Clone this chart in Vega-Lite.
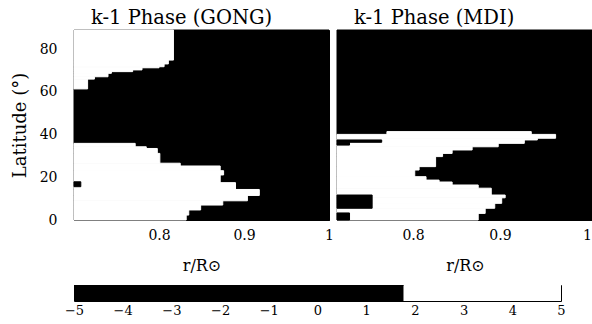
{
  "$schema": "https://vega.github.io/schema/vega-lite/v6.json",
  "background": "white",
  "padding": {"left": 10, "top": 7, "right": 0, "bottom": 0},
  "datasets": {
    "gong": [
      {"kind": "bg", "lat0": 0, "lat1": 89, "r0": 0.7, "r1": 1.0, "phase": -3},
      {"kind": "white", "lat0": 74.9, "lat1": 89, "r0": 0.7, "r1": 0.817, "phase": 3},
      {"kind": "white", "lat0": 73.1, "lat1": 74.9, "r0": 0.7, "r1": 0.811, "phase": 3},
      {"kind": "white", "lat0": 71.8, "lat1": 73.1, "r0": 0.7, "r1": 0.806, "phase": 3},
      {"kind": "white", "lat0": 71.3, "lat1": 71.8, "r0": 0.7, "r1": 0.8, "phase": 3},
      {"kind": "white", "lat0": 70.3, "lat1": 71.3, "r0": 0.7, "r1": 0.78, "phase": 3},
      {"kind": "white", "lat0": 69.5, "lat1": 70.3, "r0": 0.7, "r1": 0.769, "phase": 3},
      {"kind": "white", "lat0": 68.7, "lat1": 69.5, "r0": 0.7, "r1": 0.744, "phase": 3},
      {"kind": "white", "lat0": 67.1, "lat1": 68.7, "r0": 0.7, "r1": 0.74, "phase": 3},
      {"kind": "white", "lat0": 66.0, "lat1": 67.1, "r0": 0.7, "r1": 0.724, "phase": 3},
      {"kind": "white", "lat0": 61.4, "lat1": 66.0, "r0": 0.7, "r1": 0.716, "phase": 3},
      {"kind": "white", "lat0": 34.3, "lat1": 35.9, "r0": 0.7, "r1": 0.772, "phase": 3},
      {"kind": "white", "lat0": 33.5, "lat1": 34.3, "r0": 0.7, "r1": 0.785, "phase": 3},
      {"kind": "white", "lat0": 31.2, "lat1": 33.5, "r0": 0.7, "r1": 0.798, "phase": 3},
      {"kind": "white", "lat0": 26.6, "lat1": 31.2, "r0": 0.7, "r1": 0.801, "phase": 3},
      {"kind": "white", "lat0": 25.3, "lat1": 26.6, "r0": 0.7, "r1": 0.825, "phase": 3},
      {"kind": "white", "lat0": 23.1, "lat1": 25.3, "r0": 0.7, "r1": 0.872, "phase": 3},
      {"kind": "white", "lat0": 21.1, "lat1": 23.1, "r0": 0.7, "r1": 0.876, "phase": 3},
      {"kind": "white", "lat0": 17.5, "lat1": 21.1, "r0": 0.7, "r1": 0.872, "phase": 3},
      {"kind": "white", "lat0": 14.3, "lat1": 17.5, "r0": 0.7, "r1": 0.89, "phase": 3},
      {"kind": "white", "lat0": 11.5, "lat1": 14.3, "r0": 0.7, "r1": 0.918, "phase": 3},
      {"kind": "white", "lat0": 9.0, "lat1": 11.5, "r0": 0.7, "r1": 0.904, "phase": 3},
      {"kind": "white", "lat0": 7.0, "lat1": 9.0, "r0": 0.7, "r1": 0.875, "phase": 3},
      {"kind": "white", "lat0": 4.7, "lat1": 7.0, "r0": 0.7, "r1": 0.849, "phase": 3},
      {"kind": "white", "lat0": 2.3, "lat1": 4.7, "r0": 0.7, "r1": 0.835, "phase": 3},
      {"kind": "white", "lat0": 0, "lat1": 2.3, "r0": 0.7, "r1": 0.832, "phase": 3},
      {"kind": "black", "lat0": 15.6, "lat1": 17.9, "r0": 0.7, "r1": 0.708, "phase": -3}
    ],
    "mdi": [
      {"kind": "bg", "lat0": 0, "lat1": 89, "r0": 0.7126, "r1": 1.007, "phase": -3},
      {"kind": "white", "lat0": 40.1, "lat1": 41.4, "r0": 0.77, "r1": 0.936, "phase": 3},
      {"kind": "white", "lat0": 38.3, "lat1": 40.1, "r0": 0.7126, "r1": 0.964, "phase": 3},
      {"kind": "white", "lat0": 37.5, "lat1": 38.3, "r0": 0.7126, "r1": 0.943, "phase": 3},
      {"kind": "white", "lat0": 35.9, "lat1": 37.5, "r0": 0.7126, "r1": 0.928, "phase": 3},
      {"kind": "white", "lat0": 34.3, "lat1": 35.9, "r0": 0.7126, "r1": 0.898, "phase": 3},
      {"kind": "white", "lat0": 32.8, "lat1": 34.3, "r0": 0.7126, "r1": 0.868, "phase": 3},
      {"kind": "white", "lat0": 31.2, "lat1": 32.8, "r0": 0.7126, "r1": 0.845, "phase": 3},
      {"kind": "white", "lat0": 29.7, "lat1": 31.2, "r0": 0.7126, "r1": 0.834, "phase": 3},
      {"kind": "white", "lat0": 25.0, "lat1": 29.7, "r0": 0.7126, "r1": 0.826, "phase": 3},
      {"kind": "white", "lat0": 23.4, "lat1": 25.0, "r0": 0.7126, "r1": 0.807, "phase": 3},
      {"kind": "white", "lat0": 20.3, "lat1": 23.4, "r0": 0.7126, "r1": 0.802, "phase": 3},
      {"kind": "white", "lat0": 18.7, "lat1": 20.3, "r0": 0.7126, "r1": 0.815, "phase": 3},
      {"kind": "white", "lat0": 17.8, "lat1": 18.7, "r0": 0.7126, "r1": 0.83, "phase": 3},
      {"kind": "white", "lat0": 16.4, "lat1": 17.8, "r0": 0.7126, "r1": 0.845, "phase": 3},
      {"kind": "white", "lat0": 14.9, "lat1": 16.4, "r0": 0.7126, "r1": 0.875, "phase": 3},
      {"kind": "white", "lat0": 11.7, "lat1": 14.9, "r0": 0.7126, "r1": 0.89, "phase": 3},
      {"kind": "white", "lat0": 10.4, "lat1": 11.7, "r0": 0.7126, "r1": 0.906, "phase": 3},
      {"kind": "white", "lat0": 7.8, "lat1": 10.4, "r0": 0.7126, "r1": 0.902, "phase": 3},
      {"kind": "white", "lat0": 5.5, "lat1": 7.8, "r0": 0.7126, "r1": 0.894, "phase": 3},
      {"kind": "white", "lat0": 3.1, "lat1": 5.5, "r0": 0.7126, "r1": 0.883, "phase": 3},
      {"kind": "white", "lat0": 0, "lat1": 3.1, "r0": 0.7126, "r1": 0.875, "phase": 3},
      {"kind": "black", "lat0": 36.4, "lat1": 37.5, "r0": 0.7126, "r1": 0.764, "phase": -3},
      {"kind": "black", "lat0": 35.1, "lat1": 36.4, "r0": 0.7126, "r1": 0.727, "phase": -3},
      {"kind": "black", "lat0": 5.5, "lat1": 11.7, "r0": 0.7126, "r1": 0.753, "phase": -3},
      {"kind": "black", "lat0": 0, "lat1": 3.3, "r0": 0.7126, "r1": 0.727, "phase": -3}
    ],
    "cbar": [
      {"lo": -5, "hi": 1.77, "phase": -3},
      {"lo": 1.77, "hi": 5, "phase": 3}
    ]
  },
  "spacing": 10,
  "vconcat": [
    {
      "hconcat": [
        {
          "width": 255,
          "height": 190,
          "data": {"name": "gong"},
          "title": {"text": "k-1 Phase (GONG)", "anchor": "start", "frame": "group", "dx": 17, "fontSize": 19.5, "offset": 1},
          "mark": {"type": "rect", "strokeWidth": 1},
          "encoding": {
            "x": {"field": "r0", "type": "quantitative",
              "scale": {"domain": [0.7, 1.0], "nice": false, "zero": false},
              "axis": {"orient": "bottom", "values": [0.7, 0.72, 0.74, 0.76, 0.78, 0.8, 0.82, 0.84, 0.86, 0.88, 0.9, 0.92, 0.94, 0.96, 0.98, 1.0],
                "tickSize": {"condition": {"test": "abs(datum.value*10 - round(datum.value*10)) < 1e-6", "value": -10}, "value": -5},
                "labelExpr": "abs(datum.value*10 - round(datum.value*10)) < 1e-6 && datum.value > 0.75 ? (datum.value > 0.99 ? '1' : format(datum.value, '.1f')) : ''",
                "labelFontSize": 14, "labelPadding": 18, "labelFlush": false, "labelOverlap": false,
                "title": "r/R⊙", "titleFontSize": 16, "titlePadding": 10}},
            "x2": {"field": "r1"},
            "y": {"field": "lat0", "type": "quantitative",
              "scale": {"domain": [0, 89], "nice": false, "zero": false},
              "axis": {"orient": "left", "values": [0, 5, 10, 15, 20, 25, 30, 35, 40, 45, 50, 55, 60, 65, 70, 75, 80, 85],
                "tickSize": {"condition": {"test": "datum.value % 20 === 0", "value": -12}, "value": -6},
                "labelExpr": "datum.value % 20 === 0 ? datum.label : ''",
                "labelFontSize": 14, "labelPadding": 29, "labelOverlap": false, "labelFlush": false,
                "title": "Latitude (°)", "titleFontSize": 18, "titlePadding": 10}},
            "y2": {"field": "lat1"},
            "color": {"field": "phase", "type": "quantitative",
              "scale": {"type": "threshold", "domain": [1.77], "range": ["black", "white"]}, "legend": null},
            "stroke": {"field": "phase", "type": "quantitative",
              "scale": {"type": "threshold", "domain": [1.77], "range": ["black", "white"]}, "legend": null}
          }
        },
        {
          "width": 256,
          "height": 190,
          "data": {"name": "mdi"},
          "title": {"text": "k-1 Phase (MDI)", "anchor": "start", "frame": "group", "dx": 17, "fontSize": 19.5, "offset": 1},
          "mark": {"type": "rect", "strokeWidth": 1},
          "encoding": {
            "x": {"field": "r0", "type": "quantitative",
              "scale": {"domain": [0.7126, 1.007], "nice": false, "zero": false},
              "axis": {"orient": "bottom", "values": [0.72, 0.74, 0.76, 0.78, 0.8, 0.82, 0.84, 0.86, 0.88, 0.9, 0.92, 0.94, 0.96, 0.98, 1.0],
                "tickSize": {"condition": {"test": "abs(datum.value*10 - round(datum.value*10)) < 1e-6", "value": -10}, "value": -5},
                "labelExpr": "abs(datum.value*10 - round(datum.value*10)) < 1e-6 && datum.value > 0.75 ? (datum.value > 0.99 ? '1' : format(datum.value, '.1f')) : ''",
                "labelFontSize": 14, "labelPadding": 18, "labelFlush": false, "labelOverlap": false,
                "title": "r/R⊙", "titleFontSize": 16, "titlePadding": 10}},
            "x2": {"field": "r1"},
            "y": {"field": "lat0", "type": "quantitative",
              "scale": {"domain": [0, 89], "nice": false, "zero": false},
              "axis": {"orient": "left", "values": [0, 5, 10, 15, 20, 25, 30, 35, 40, 45, 50, 55, 60, 65, 70, 75, 80, 85],
                "tickSize": {"condition": {"test": "datum.value % 20 === 0", "value": -12}, "value": -6},
                "labels": false, "title": null}},
            "y2": {"field": "lat1"},
            "color": {"field": "phase", "type": "quantitative",
              "scale": {"type": "threshold", "domain": [1.77], "range": ["black", "white"]}, "legend": null},
            "stroke": {"field": "phase", "type": "quantitative",
              "scale": {"type": "threshold", "domain": [1.77], "range": ["black", "white"]}, "legend": null}
          }
        }
      ],
      "spacing": 8,
      "bounds": "flush"
    },
    {
      "width": 487,
      "height": 16,
      "data": {"name": "cbar"},
      "mark": {"type": "rect"},
      "encoding": {
        "x": {"field": "lo", "type": "quantitative",
          "scale": {"domain": [-5, 5], "nice": false, "zero": false},
          "axis": {"orient": "bottom", "values": [-5, -4, -3, -2, -1, 0, 1, 2, 3, 4, 5],
            "ticks": false, "domain": false, "labelPadding": 3, "labelFontSize": 13, "labelFlush": false, "labelOverlap": false, "title": null}},
        "x2": {"field": "hi"},
        "color": {"field": "phase", "type": "quantitative",
          "scale": {"type": "threshold", "domain": [1.77], "range": ["black", "white"]}, "legend": null}
      }
    }
  ],
  "config": {
    "view": {"stroke": "black", "strokeWidth": 1},
    "axis": {"grid": false, "domainColor": "black", "tickColor": "black", "labelColor": "black", "titleColor": "black",
      "labelFont": "DejaVu Serif", "titleFont": "DejaVu Serif", "titleFontWeight": "normal", "domainWidth": 1, "tickWidth": 1},
    "title": {"font": "DejaVu Serif", "fontWeight": "normal", "color": "black"}
  }
}
